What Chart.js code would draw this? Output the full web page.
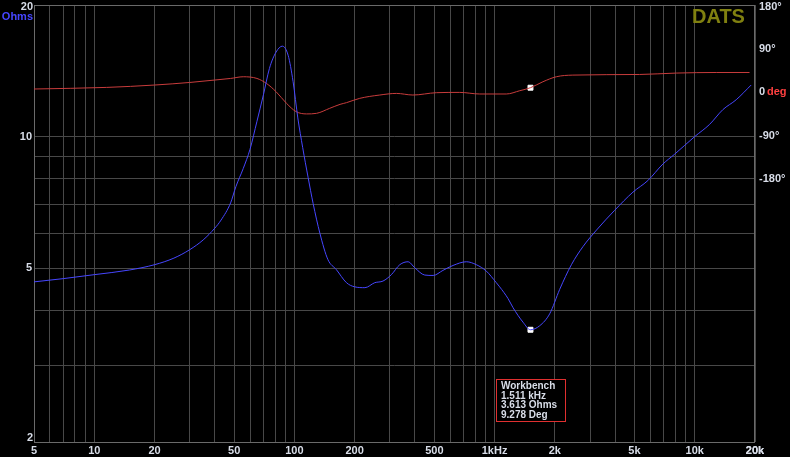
<!DOCTYPE html>
<html lang="en">
<head>
  <meta charset="UTF-8" />
  <title>DATS Impedance</title>
  <style>
    html, body { margin: 0; padding: 0; background: #000; }
    #wrap { width: 790px; height: 457px; }
  </style>
  <script src="https://cdn.jsdelivr.net/npm/chart.js"></script>
</head>
<body>
  <div id="wrap"><canvas id="impChart"></canvas></div>

  <script>
    // impedance magnitude (blue)
    const impFreq = [5, 7, 10, 15, 20, 25, 30, 35, 40, 43, 48, 51, 55.5, 60, 65, 70, 75, 81, 87, 93, 98.5,
      104, 110, 117, 124, 134, 147, 162, 182, 200, 225, 252, 277, 305, 336, 370, 399, 448, 493, 552,
      620, 723, 811, 910, 1020, 1060, 1167, 1236, 1387, 1511, 1680, 1885, 2115, 2420, 2765, 3230,
      3980, 4910, 5830, 6930, 7930, 10000, 11860, 13810, 16110, 19140];
    const impOhms = [4.65, 4.73, 4.83, 4.95, 5.09, 5.27, 5.51, 5.80, 6.17, 6.44, 7.05, 7.68, 8.45, 9.35, 10.84, 12.46, 14.31, 15.61, 16.1, 15.35, 13.35,
      11.03, 9.43, 8.07, 7.03, 6.01, 5.23, 4.96, 4.63, 4.53, 4.51, 4.63, 4.67, 4.83, 5.09, 5.17, 5.01, 4.82, 4.81, 4.94,
      5.07, 5.17, 5.09, 4.92, 4.63, 4.53, 4.26, 4.06, 3.76, 3.613, 3.69, 3.93, 4.47, 5.09, 5.60, 6.11,
      6.78, 7.46, 7.93, 8.65, 9.11, 10.0, 10.66, 11.52, 12.14, 13.12];

    // phase (red)
    const phaseFreq = [5, 11.5, 20, 30, 40, 48, 55.5, 65, 72.5, 81, 91.3, 102, 115, 129, 150, 169, 182, 212,
      267, 323, 391, 512, 670, 843, 1145, 1336, 1511, 1744, 2035, 2460, 5300, 8080, 12800, 18780];
    const phaseDeg = [6.6, 9.9, 14.8, 20.1, 25.1, 28.4, 31.9, 28.4, 18.1, 1.0, -23.0, -40.1, -44.8, -43.6, -33.3, -25.1, -21.6, -12.7,
      -5.8, -2.5, -5.8, -1.0, -0.4, -3.7, -3.7, 3.1, 9.278, 21.6, 31.9, 35.3, 36.6, 39.5, 40.7, 40.7];

    // cursor readout
    const cursorFreq = 1511;
    const cursorOhms = 3.613;
    const cursorDeg = 9.278;
    const cursorLines = ['Workbench', '1.511 kHz', '3.613 Ohms', '9.278 Deg'];

    const freqTicks = [5, 10, 20, 50, 100, 200, 500, 1000, 2000, 5000, 10000, 20000];
    const freqTickLabels = ['5', '10', '20', '50', '100', '200', '500', '1kHz', '2k', '5k', '10k', '20k'];
    const ohmGrid = [2, 3, 4, 5, 6, 7, 8, 9, 10, 20];
    const ohmTickLabels = { 5: '5', 10: '10' };
    const degTicks = [-180, -90, 0, 90];

    const labelColor = '#d8dde8';
    const blue = '#4646ff';
    const red = '#c83c3c';
    const gridColor = '#484848';
    const font = { family: '"Liberation Sans", Arial, sans-serif', size: 11, weight: 'bold' };

    // grid every 1..9 x decade
    const freqGrid = [];
    for (let d = 1; d <= 10000; d *= 10) {
      for (let m = 1; m <= 9; m++) {
        const v = m * d;
        if (v >= 5 && v <= 20000) freqGrid.push(v);
      }
    }
    freqGrid.push(20000);

    const pts = (xs, ys) => xs.map((x, i) => ({ x: x, y: ys[i] }));

    function noPad(s) {
      s.paddingTop = 0;
      s.paddingBottom = 0;
      s.paddingLeft = 0;
      s.paddingRight = 0;
    }

    const extras = {
      id: 'extras',
      beforeDraw(chart) {
        const c = chart.ctx;
        c.save();
        c.fillStyle = '#000';
        c.fillRect(0, 0, chart.width, chart.height);
        c.restore();
      },
      beforeDatasetsDraw(chart) {
        const a = chart.chartArea;
        const c = chart.ctx;
        c.save();
        c.strokeStyle = '#6a6a6a';
        c.lineWidth = 1;
        c.strokeRect(a.left + 0.5, a.top + 0.5, a.right - a.left - 1, a.bottom - a.top);
        c.restore();
      },
      afterDraw(chart) {
        const c = chart.ctx;
        c.save();
        c.font = 'bold 11px "Liberation Sans", Arial, sans-serif';
        c.textBaseline = 'middle';

        c.textAlign = 'right';
        c.fillStyle = labelColor;
        c.fillText('20', 33, 7);
        c.fillText('2', 33, 438);
        c.fillStyle = blue;
        c.fillText('Ohms', 33, 17);

        c.textAlign = 'left';
        c.fillStyle = labelColor;
        c.fillText('180°', 759, 7);
        const degY = chart.scales.deg.getPixelForValue(0);
        c.fillStyle = '#ff4040';
        c.fillText('deg', 767, degY);

        c.font = 'bold 20px "Liberation Sans", Arial, sans-serif';
        c.textBaseline = 'alphabetic';
        c.fillStyle = '#808010';
        c.fillText('DATS', 692, 23);

        // readout box
        c.fillStyle = '#000';
        c.fillRect(496, 379, 69, 42);
        c.strokeStyle = '#e03030';
        c.lineWidth = 1;
        c.strokeRect(496.5, 379.5, 69, 42);
        c.font = 'bold 10px "Liberation Sans", Arial, sans-serif';
        c.textBaseline = 'middle';
        c.fillStyle = labelColor;
        cursorLines.forEach((t, i) => c.fillText(t, 501, 386 + i * 9.8));
        c.restore();
      }
    };

    new Chart(document.getElementById('impChart'), {
      type: 'scatter',
      data: {
        datasets: [
          {
            data: pts(impFreq, impOhms),
            yAxisID: 'ohm',
            showLine: true,
            borderColor: blue,
            borderWidth: 1,
            pointRadius: 0,
            cubicInterpolationMode: 'monotone',
            order: 1
          },
          {
            data: pts(phaseFreq, phaseDeg),
            yAxisID: 'deg',
            showLine: true,
            borderColor: red,
            borderWidth: 1,
            pointRadius: 0,
            cubicInterpolationMode: 'monotone',
            order: 1
          },
          {
            data: [{ x: cursorFreq, y: cursorOhms }],
            yAxisID: 'ohm',
            pointStyle: 'rect',
            pointRadius: 3.5,
            backgroundColor: '#fff',
            borderColor: '#fff',
            order: 2
          },
          {
            data: [{ x: cursorFreq, y: cursorDeg }],
            yAxisID: 'deg',
            pointStyle: 'rect',
            pointRadius: 3.5,
            backgroundColor: '#fff',
            borderColor: '#fff',
            order: 2
          }
        ]
      },
      options: {
        responsive: true,
        maintainAspectRatio: false,
        animation: false,
        layout: { padding: { top: 3, left: 0, right: 0, bottom: 0 } },
        plugins: { legend: { display: false }, tooltip: { enabled: false } },
        scales: {
          x: {
            type: 'logarithmic',
            min: 5,
            max: 20000,
            afterBuildTicks: s => { s.ticks = freqGrid.map(v => ({ value: v })); },
            afterFit: s => { s.height = 15; noPad(s); },
            grid: { color: gridColor, drawTicks: false },
            border: { display: false },
            ticks: {
              autoSkip: false,
              maxRotation: 0,
              padding: 2,
              color: labelColor,
              font: font,
              callback: v => {
                const i = freqTicks.indexOf(v);
                return i >= 0 ? freqTickLabels[i] : '';
              }
            }
          },
          ohm: {
            type: 'logarithmic',
            position: 'left',
            min: 2,
            max: 20,
            afterBuildTicks: s => { s.ticks = ohmGrid.map(v => ({ value: v })); },
            afterFit: s => { s.width = 34; noPad(s); },
            grid: { color: gridColor, drawTicks: false },
            border: { display: false },
            ticks: {
              autoSkip: false,
              padding: 2,
              color: labelColor,
              font: font,
              callback: v => ohmTickLabels[v] || ''
            }
          },
          deg: {
            type: 'linear',
            position: 'right',
            min: -722,
            max: 180,
            afterBuildTicks: s => { s.ticks = degTicks.map(v => ({ value: v })); },
            afterFit: s => { s.width = 35; noPad(s); },
            grid: { drawOnChartArea: false, drawTicks: false },
            border: { display: false },
            ticks: {
              autoSkip: false,
              padding: 4,
              color: labelColor,
              font: font,
              callback: v => v === 0 ? '0' : v + '°'
            }
          }
        }
      },
      plugins: [extras]
    });
  </script>
</body>
</html>
